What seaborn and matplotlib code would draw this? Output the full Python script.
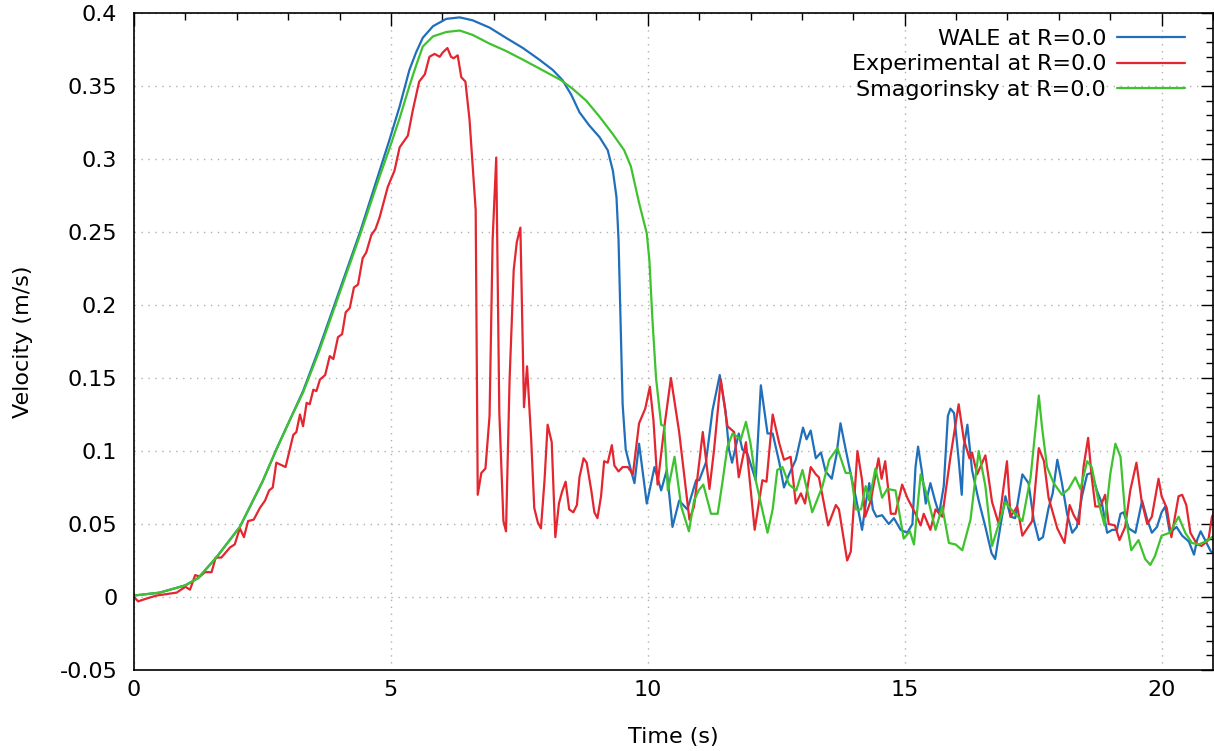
import matplotlib
matplotlib.use("Agg")
import matplotlib.pyplot as plt
import matplotlib.ticker as mticker
import seaborn as sns
import pandas as pd

# ---------------- data ----------------
exp_t = [0, 0.08, 0.25, 0.44, 0.83, 1.0, 1.09, 1.19, 1.28, 1.38, 1.51, 1.59, 1.70, 1.87, 1.96,
         2.06, 2.14, 2.22, 2.33, 2.45, 2.55, 2.63, 2.70, 2.77, 2.95, 3.10, 3.16, 3.23, 3.29, 3.36,
         3.42, 3.49, 3.55, 3.62, 3.72, 3.81, 3.88, 3.97, 4.05, 4.12, 4.2, 4.28, 4.36, 4.45, 4.52,
         4.62, 4.70, 4.78, 4.94, 5.07, 5.17, 5.23, 5.33, 5.43, 5.55, 5.66, 5.75, 5.85, 5.95, 6.01,
         6.10, 6.17, 6.22, 6.30, 6.37, 6.45, 6.53, 6.65, 6.69, 6.76, 6.84, 6.92, 6.98, 7.05, 7.11,
         7.19, 7.24, 7.31, 7.39, 7.45, 7.52, 7.59, 7.65, 7.73, 7.79, 7.86, 7.92, 7.99, 8.05, 8.13,
         8.20, 8.27, 8.33, 8.40, 8.47, 8.55, 8.62, 8.67, 8.75, 8.81, 8.90, 8.96, 9.02, 9.09, 9.15,
         9.22, 9.30, 9.35, 9.43, 9.51, 9.61, 9.71, 9.83, 9.95, 10.04, 10.11, 10.19, 10.32, 10.45,
         10.61, 10.81, 10.90, 11.07, 11.20, 11.29, 11.42, 11.55, 11.68, 11.77, 11.91, 12.08, 12.23,
         12.31, 12.43, 12.56, 12.65, 12.78, 12.88, 12.98, 13.06, 13.17, 13.27, 13.33, 13.51, 13.66,
         13.72, 13.88, 13.95, 14.08, 14.17, 14.23, 14.34, 14.49, 14.55, 14.62, 14.73, 14.82, 14.95,
         15.05, 15.21, 15.31, 15.37, 15.50, 15.60, 15.73, 15.89, 16.05, 16.15, 16.26, 16.31, 16.41,
         16.57, 16.70, 16.83, 16.99, 17.06, 17.19, 17.29, 17.48, 17.61, 17.71, 17.80, 17.97, 18.11,
         18.21, 18.29, 18.39, 18.48, 18.57, 18.64, 18.71, 18.81, 18.90, 18.97, 19.09, 19.18, 19.29,
         19.39, 19.51, 19.61, 19.72, 19.81, 19.94, 20.00, 20.10, 20.19, 20.33, 20.40, 20.48, 20.56,
         20.69, 20.78, 20.91, 20.98, 21.05]
exp_v = [0.0, -0.003, -0.001, 0.001, 0.003, 0.007, 0.005, 0.015, 0.014, 0.017, 0.017, 0.027, 0.027, 0.034, 0.036,
         0.047, 0.041, 0.052, 0.053, 0.061, 0.066, 0.073, 0.075, 0.092, 0.089, 0.111, 0.113, 0.125, 0.117, 0.133,
         0.132, 0.142, 0.141, 0.149, 0.152, 0.165, 0.163, 0.178, 0.180, 0.195, 0.198, 0.212, 0.214, 0.232, 0.236,
         0.248, 0.252, 0.260, 0.281, 0.292, 0.308, 0.311, 0.316, 0.334, 0.353, 0.358, 0.370, 0.372, 0.370, 0.373,
         0.376, 0.370, 0.369, 0.371, 0.356, 0.353, 0.327, 0.265, 0.070, 0.085, 0.088, 0.124, 0.245, 0.301, 0.126,
         0.052, 0.045, 0.149, 0.224, 0.243, 0.253, 0.130, 0.158, 0.108, 0.061, 0.051, 0.047, 0.080, 0.118, 0.106,
         0.041, 0.064, 0.072, 0.079, 0.060, 0.058, 0.063, 0.082, 0.095, 0.092, 0.073, 0.058, 0.054, 0.069, 0.093,
         0.092, 0.104, 0.090, 0.086, 0.089, 0.089, 0.084, 0.119, 0.129, 0.144, 0.121, 0.077, 0.116, 0.150,
         0.113, 0.053, 0.062, 0.113, 0.074, 0.101, 0.149, 0.117, 0.113, 0.082, 0.106, 0.046, 0.080,
         0.079, 0.125, 0.105, 0.094, 0.096, 0.064, 0.071, 0.064, 0.089, 0.084, 0.082, 0.049, 0.063,
         0.060, 0.025, 0.031, 0.100, 0.080, 0.055, 0.066, 0.095, 0.081, 0.093, 0.057, 0.057, 0.077,
         0.068, 0.057, 0.049, 0.057, 0.046, 0.060, 0.055, 0.096, 0.132, 0.108, 0.095, 0.099, 0.084,
         0.097, 0.065, 0.050, 0.093, 0.055, 0.062, 0.042, 0.052, 0.102, 0.093, 0.068, 0.047, 0.037,
         0.063, 0.056, 0.050, 0.089, 0.109, 0.082, 0.062, 0.062, 0.070, 0.050, 0.049, 0.039, 0.048,
         0.073, 0.092, 0.066, 0.050, 0.055, 0.081, 0.069, 0.061, 0.041, 0.069, 0.070, 0.063, 0.044,
         0.036, 0.035, 0.039, 0.055, 0.060]

wale_t = [0, 0.5, 1.0, 1.25, 1.6, 2.06, 2.5, 2.77, 3.03, 3.29, 3.6, 3.9, 4.4, 4.78, 4.98, 5.17, 5.36,
          5.49, 5.62, 5.82, 6.08, 6.34, 6.59, 6.92, 7.24, 7.57, 7.89, 8.15, 8.34, 8.51, 8.67, 8.86,
          9.06, 9.22, 9.32, 9.39, 9.43, 9.46, 9.48, 9.51, 9.57, 9.67, 9.74, 9.83, 9.98, 10.13, 10.26,
          10.37, 10.48, 10.61, 10.77, 10.94, 11.0, 11.13, 11.26, 11.40, 11.51, 11.58, 11.64, 11.77,
          11.84, 11.94, 12.10, 12.20, 12.33, 12.43, 12.56, 12.65, 12.75, 12.88, 13.02, 13.09, 13.17,
          13.27, 13.37, 13.46, 13.58, 13.67, 13.75, 13.84, 13.95, 14.05, 14.17, 14.25, 14.31, 14.38,
          14.45, 14.56, 14.69, 14.79, 14.92, 15.05, 15.15, 15.21, 15.26, 15.33, 15.41, 15.50, 15.59,
          15.67, 15.76, 15.84, 15.89, 15.96, 16.05, 16.11, 16.15, 16.22, 16.31, 16.44, 16.57, 16.69,
          16.76, 16.86, 16.96, 17.06, 17.15, 17.29, 17.41, 17.51, 17.61, 17.69, 17.80, 17.88, 17.97,
          18.06, 18.16, 18.26, 18.35, 18.45, 18.55, 18.64, 18.74, 18.84, 18.94, 19.04, 19.13, 19.20,
          19.26, 19.36, 19.49, 19.62, 19.72, 19.81, 19.91, 20.00, 20.07, 20.16, 20.29, 20.40, 20.53,
          20.63, 20.69, 20.76, 20.86, 20.96, 21.05]
wale_v = [0.001, 0.003, 0.008, 0.013, 0.027, 0.048, 0.079, 0.101, 0.121, 0.141, 0.170, 0.200, 0.250, 0.292, 0.314, 0.336, 0.361,
          0.373, 0.383, 0.391, 0.396, 0.397, 0.395, 0.390, 0.383, 0.376, 0.368, 0.361, 0.354, 0.344, 0.332, 0.323,
          0.315, 0.306, 0.292, 0.274, 0.245, 0.203, 0.174, 0.132, 0.101, 0.087, 0.078, 0.105, 0.064, 0.089, 0.073,
          0.087, 0.048, 0.066, 0.060, 0.080, 0.080, 0.092, 0.128, 0.152, 0.128, 0.101, 0.092, 0.112,
          0.101, 0.098, 0.080, 0.145, 0.112, 0.112, 0.092, 0.075, 0.084, 0.094, 0.116, 0.108, 0.114,
          0.095, 0.099, 0.086, 0.081, 0.097, 0.119, 0.103, 0.084, 0.068, 0.046, 0.066, 0.078, 0.060,
          0.055, 0.056, 0.050, 0.054, 0.046, 0.044, 0.050, 0.089, 0.103, 0.087, 0.064, 0.078, 0.066,
          0.057, 0.076, 0.124, 0.129, 0.126, 0.094, 0.070, 0.103, 0.118, 0.087, 0.066, 0.048, 0.030,
          0.026, 0.048, 0.069, 0.055, 0.054, 0.084, 0.078, 0.053, 0.039, 0.041, 0.061, 0.071, 0.094,
          0.078, 0.057, 0.044, 0.048, 0.069, 0.084, 0.085, 0.073, 0.064, 0.044, 0.046, 0.046, 0.057,
          0.058, 0.047, 0.044, 0.066, 0.053, 0.044, 0.048, 0.058, 0.062, 0.044, 0.048, 0.042, 0.038,
          0.029, 0.039, 0.045, 0.038, 0.031, 0.030]

smag_t = [0, 0.5, 1.0, 1.25, 1.6, 2.06, 2.5, 2.77, 3.03, 3.29, 3.6, 3.9, 4.4, 4.78, 4.98, 5.17, 5.36,
          5.49, 5.62, 5.82, 6.08, 6.34, 6.59, 6.92, 7.24, 7.57, 7.89, 8.31, 8.54, 8.80, 9.06, 9.32,
          9.54, 9.67, 9.83, 9.98, 10.03, 10.09, 10.16, 10.26, 10.32, 10.39, 10.52, 10.65, 10.80,
          10.90, 10.99, 11.08, 11.23, 11.36, 11.45, 11.55, 11.65, 11.81, 11.91, 12.00, 12.10, 12.20,
          12.33, 12.43, 12.52, 12.62, 12.75, 12.89, 13.01, 13.20, 13.40, 13.53, 13.69, 13.85, 13.95,
          14.05, 14.15, 14.24, 14.31, 14.43, 14.56, 14.66, 14.82, 14.98, 15.10, 15.18, 15.31, 15.44,
          15.60, 15.73, 15.86, 15.99, 16.12, 16.28, 16.44, 16.57, 16.70, 16.83, 16.96, 17.12, 17.29,
          17.45, 17.61, 17.67, 17.77, 17.90, 18.06, 18.19, 18.32, 18.42, 18.55, 18.64, 18.78, 18.89,
          19.00, 19.10, 19.20, 19.29, 19.41, 19.55, 19.68, 19.78, 19.87, 20.00, 20.16, 20.33, 20.46,
          20.59, 20.72, 20.86, 20.98, 21.05]
smag_v = [0.001, 0.003, 0.008, 0.013, 0.027, 0.048, 0.079, 0.101, 0.121, 0.140, 0.168, 0.198, 0.248, 0.288, 0.308, 0.328, 0.350,
          0.364, 0.377, 0.384, 0.387, 0.388, 0.385, 0.379, 0.374, 0.368, 0.362, 0.354, 0.348, 0.340, 0.329, 0.317,
          0.306, 0.295, 0.270, 0.249, 0.231, 0.190, 0.150, 0.118, 0.117, 0.073, 0.096, 0.062, 0.045,
          0.066, 0.073, 0.077, 0.057, 0.057, 0.078, 0.103, 0.112, 0.108, 0.120, 0.105, 0.080, 0.064,
          0.044, 0.060, 0.087, 0.089, 0.077, 0.073, 0.087, 0.058, 0.076, 0.094, 0.102, 0.085, 0.085,
          0.060, 0.060, 0.076, 0.066, 0.088, 0.068, 0.074, 0.073, 0.040, 0.045, 0.036, 0.084, 0.069,
          0.046, 0.062, 0.037, 0.036, 0.032, 0.053, 0.100, 0.076, 0.035, 0.050, 0.065, 0.058, 0.052,
          0.082, 0.138, 0.117, 0.089, 0.078, 0.070, 0.074, 0.082, 0.074, 0.093, 0.089, 0.064, 0.049,
          0.084, 0.105, 0.096, 0.057, 0.032, 0.039, 0.026, 0.022, 0.028, 0.042, 0.044, 0.055, 0.044,
          0.037, 0.036, 0.038, 0.041, 0.042]

labels = ["WALE at R=0.0", "Experimental at R=0.0", "Smagorinsky at R=0.0"]
colors = ["#1f6fba", "#e3262f", "#3ec22e"]
x_ticks = [0, 5, 10, 15, 20]
y_ticks = [-0.05, 0, 0.05, 0.1, 0.15, 0.2, 0.25, 0.3, 0.35, 0.4]

# ---------------- plot ----------------
sns.set_style("white")
plt.rcParams["font.family"] = ["DejaVu Sans"]
plt.rcParams["text.color"] = "black"
plt.rcParams["axes.labelcolor"] = "black"

FS = 16

fig = plt.figure(figsize=(12.14, 7.51), dpi=100)
ax = fig.add_axes([134 / 1214, 1 - 670 / 751, (1213 - 134) / 1214, (670 - 13) / 751])

series = [(wale_t, wale_v), (exp_t, exp_v), (smag_t, smag_v)]
for (t, v), lab, c in zip(series, labels, colors):
    df = pd.DataFrame({"t": t, "v": v})
    sns.lineplot(data=df, x="t", y="v", ax=ax, color=c, linewidth=1.6,
                 label=lab, sort=False, estimator=None)

ax.set_xlim(0, 21)
ax.set_ylim(-0.05, 0.4)
ax.set_xticks(x_ticks)
ax.set_yticks(y_ticks)
ax.xaxis.set_minor_locator(mticker.MultipleLocator(1))
ax.yaxis.set_minor_locator(mticker.MultipleLocator(0.01))
ax.xaxis.set_major_formatter(mticker.FuncFormatter(lambda v, p: "%g" % round(v, 4)))
ax.yaxis.set_major_formatter(mticker.FuncFormatter(lambda v, p: "%g" % round(v, 4)))
ax.tick_params(which="both", direction="in", top=True, right=True, labelsize=FS,
               colors="black", labelcolor="black")
ax.tick_params(which="major", length=9, width=1)
ax.tick_params(which="minor", length=5, width=1)
ax.tick_params(axis="x", pad=7)
ax.tick_params(axis="y", pad=12)
for s in ax.spines.values():
    s.set_color("black")
    s.set_linewidth(1.2)
ax.grid(True, which="major", linestyle=(0, (1, 4)), color="#b0b0b0", linewidth=1)

ax.set_xlabel("Time (s)", fontsize=FS, labelpad=20, color="black")
ax.set_ylabel("Velocity (m/s)", fontsize=FS, labelpad=19, color="black")

leg = ax.legend(loc="upper right", bbox_to_anchor=(0.974, 0.976), frameon=False,
                markerfirst=False, fontsize=FS, handlelength=3.05, handletextpad=0.5,
                labelspacing=0.25, borderaxespad=0, borderpad=0)

fig.savefig("out.png", dpi=100)
